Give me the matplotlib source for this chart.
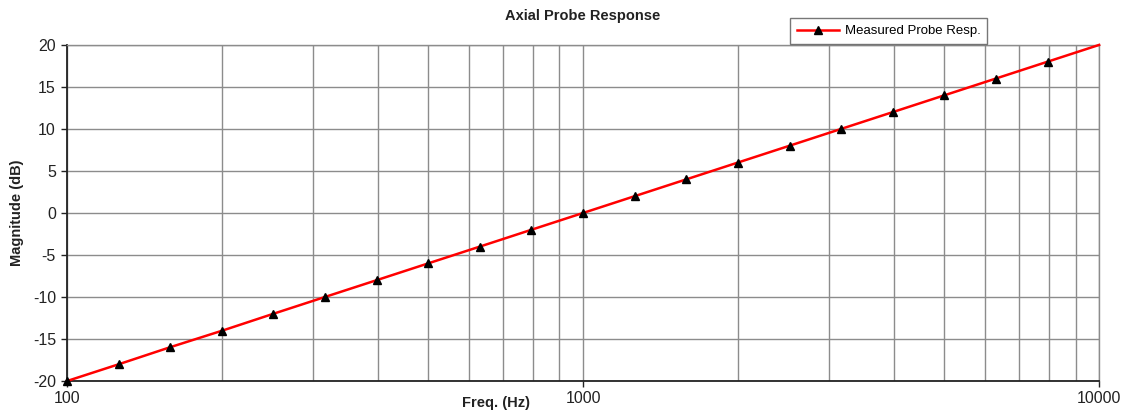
import matplotlib
matplotlib.use("Agg")
import matplotlib.pyplot as plt
from matplotlib.ticker import FixedLocator, FixedFormatter, LogLocator, NullFormatter

# ── Data ─────────────────────────────────────────────────────────────────────
freq_hz = [100, 126, 158, 200, 251, 316, 398, 501, 631, 794, 1000,
           1259, 1585, 1995, 2512, 3162, 3981, 5012, 6310, 7943, 10000]
magnitude_db = [-20, -18, -16, -14, -12, -10, -8, -6, -4, -2, 0,
                2, 4, 6, 8, 10, 12, 14, 16, 18, 20]
y_ticks = [-20, -15, -10, -5, 0, 5, 10, 15, 20]
x_ticks = [100, 1000, 10000]
x_tick_labels = ["100", "1000", "10000"]

GRID = "#8c8c8c"
TEXT = "#222222"
FONT = "Liberation Sans"

plt.rcParams["font.family"] = [FONT, "DejaVu Sans"]
plt.rcParams["axes.unicode_minus"] = False

fig = plt.figure(figsize=(11.25, 4.12), dpi=100)
ax = fig.add_axes([0.0596, 0.0752, 0.9174, 0.8158])

ax.plot(freq_hz, magnitude_db, color="#ff0000", lw=1.8, zorder=3,
        marker="^", markersize=5.5, markerfacecolor="black",
        markeredgecolor="black", markevery=list(range(len(freq_hz) - 1)),
        clip_on=False, label="Measured Probe Resp.")

ax.set_xscale("log")
ax.set_xlim(100, 10000)
ax.set_ylim(-20, 20)

ax.xaxis.set_major_locator(FixedLocator(x_ticks))
ax.xaxis.set_major_formatter(FixedFormatter(x_tick_labels))
ax.xaxis.set_minor_locator(LogLocator(base=10, subs=range(2, 10)))
ax.xaxis.set_minor_formatter(NullFormatter())
ax.set_yticks(y_ticks)

ax.grid(True, which="both", color=GRID, lw=1.0, zorder=1)
ax.set_axisbelow(True)

for side in ("top", "right"):
    ax.spines[side].set_color(GRID)
    ax.spines[side].set_linewidth(1.0)
for side in ("left", "bottom"):
    ax.spines[side].set_color(TEXT)
    ax.spines[side].set_linewidth(1.3)

ax.tick_params(axis="both", which="major", direction="out", length=4,
               width=1, labelsize=11.5, colors=TEXT, pad=4)
ax.tick_params(axis="x", which="minor", length=0)
ax.tick_params(axis="x", which="major", pad=3)

ax.set_title("Axial Probe Response", fontsize=10.5, fontweight="bold",
             pad=18, color=TEXT)
ax.set_xlabel("Freq. (Hz)", fontsize=10.5, fontweight="bold", color=TEXT)
ax.xaxis.set_label_coords(0.416, -0.045)
ax.set_ylabel("Magnitude (dB)", fontsize=10.5, fontweight="bold",
              color=TEXT, labelpad=6)

leg = ax.legend(loc="lower left", bbox_to_anchor=(0.7009, 1.003),
                fontsize=9.5, frameon=True, fancybox=False, handlelength=3.2,
                borderpad=0.5, handletextpad=0.4, borderaxespad=0)
leg.get_frame().set_edgecolor("#555555")
leg.get_frame().set_linewidth(1.0)

fig.savefig("out.png", dpi=100, facecolor="white")
